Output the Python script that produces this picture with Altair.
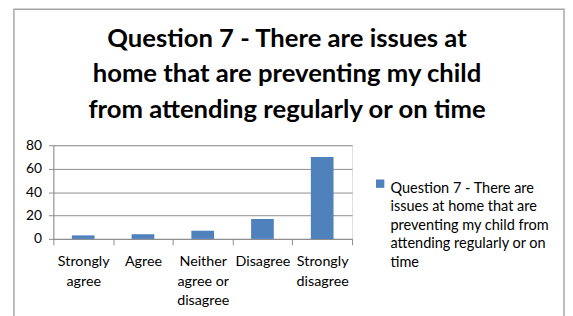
import json
import altair as alt
import pandas as pd

categories = ["Strongly agree", "Agree", "Neither agree or disagree", "Disagree", "Strongly disagree"]
values = [3, 4, 7, 17, 70]
series_name = "Question 7 - There are issues at home that are preventing my child from attending regularly or on time"
title_lines = [
    "Question 7 - There are issues at",
    "home that are preventing my child",
    "from attending regularly or on time",
]
category_lines = [["Strongly", "agree"], ["Agree"], ["Neither", "agree or", "disagree"], ["Disagree"], ["Strongly", "disagree"]]
legend_lines = ["Question 7 - There are", "issues at home that are", "preventing my child from", "attending regularly or on", "time"]
y_ticks = [0, 20, 40, 60, 80]

df = pd.DataFrame({"category": categories, "value": values, "series": [series_name] * len(categories)})
one_df = pd.DataFrame({"series": [series_name]})

x_label_expr = json.dumps(dict(zip(categories, category_lines))) + "[datum.label]"

FONT = "Lato"
GRID = "#8c8c8c"
color_scale = alt.Scale(domain=[series_name], range=["#4F81BD"])

frame = alt.Chart(one_df).mark_rect(fill="transparent", stroke="#a6a6a6", strokeWidth=1.5).encode(
    x=alt.value(-40), x2=alt.value(518), y=alt.value(-138), y2=alt.value(200)
)

title = alt.Chart(one_df).mark_text(
    text=title_lines, align="center", baseline="alphabetic", font=FONT, fontSize=26,
    fontWeight="bold", lineHeight=36.3, color="black",
).encode(x=alt.value(237), y=alt.value(-100))

bars = alt.Chart(df).mark_bar(width={"band": 0.38}).encode(
    x=alt.X(
        "category:N",
        sort=categories,
        scale=alt.Scale(paddingInner=0, paddingOuter=0),
        axis=alt.Axis(
            title=None,
            labelAngle=0,
            labelExpr=x_label_expr,
            tickBand="extent",
            tickSize=6,
            labelPadding=10,
            labelLineHeight=19.8,
            labelBaseline="top",
            domainColor=GRID,
            tickColor=GRID,
            labelColor="black",
            labelFont=FONT,
            labelFontSize=14.5,
            labelLimit=200,
        ),
    ),
    y=alt.Y(
        "value:Q",
        scale=alt.Scale(domain=[0, 80]),
        axis=alt.Axis(
            title=None,
            values=y_ticks,
            grid=True,
            gridColor=GRID,
            domainColor=GRID,
            tickColor=GRID,
            tickSize=5,
            labelPadding=7,
            labelColor="black",
            labelFont=FONT,
            labelFontSize=14,
        ),
    ),
    color=alt.Color("series:N", scale=color_scale, legend=None),
)

legend_symbol = alt.Chart(one_df).mark_square(size=72, opacity=1).encode(
    x=alt.value(331.5), y=alt.value(39),
    color=alt.Color("series:N", scale=color_scale, legend=None),
)
legend_text = alt.Chart(one_df).mark_text(
    text=legend_lines, align="left", baseline="alphabetic", font=FONT, fontSize=14.7,
    lineHeight=18.9, color="black",
).encode(x=alt.value(342), y=alt.value(48))

chart = alt.layer(frame, title, bars, legend_symbol, legend_text).properties(
    width=303,
    height=95,
    padding={"left": 46, "top": 137, "right": 216, "bottom": 76},
    autosize=alt.AutoSizeParams(type="none"),
).configure_view(stroke=None).configure(background="white")

chart.save("out.html", embed_options={"renderer": "svg", "actions": False})
